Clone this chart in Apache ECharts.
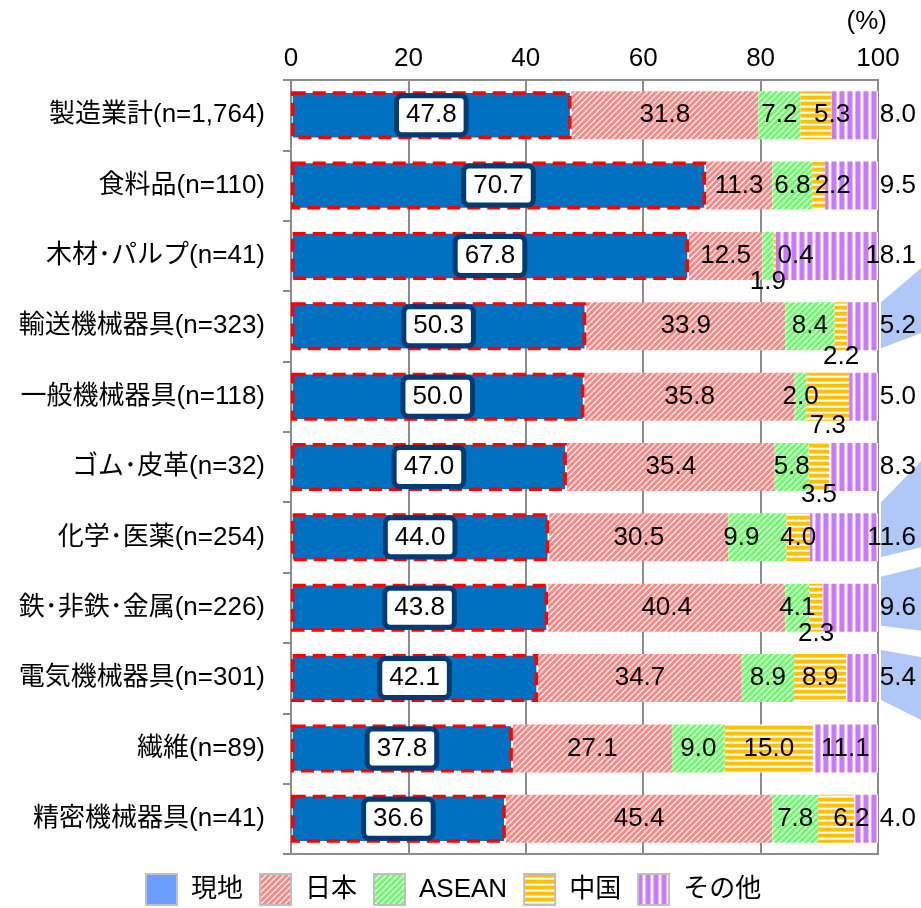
<!DOCTYPE html>
<html>
<head>
<meta charset="utf-8">
<script src="https://cdn.jsdelivr.net/npm/echarts@6/dist/echarts.min.js"></script>
<style>
  html, body { margin: 0; padding: 0; background: #ffffff; }
  #chart { width: 921px; height: 908px; }
</style>
</head>
<body>
<div id="chart"></div>
<script>
// Production location shares by industry (%)
const categories = [
  '製造業計(n=1,764)', '食料品(n=110)', '木材･パルプ(n=41)', '輸送機械器具(n=323)',
  '一般機械器具(n=118)', 'ゴム･皮革(n=32)', '化学･医薬(n=254)', '鉄･非鉄･金属(n=226)',
  '電気機械器具(n=301)', '繊維(n=89)', '精密機械器具(n=41)'
];
const seriesNames = ['現地', '日本', 'ASEAN', '中国', 'その他'];
const localShare = [47.8, 70.7, 67.8, 50.3, 50.0, 47.0, 44.0, 43.8, 42.1, 37.8, 36.6];
const japanShare = [31.8, 11.3, 12.5, 33.9, 35.8, 35.4, 30.5, 40.4, 34.7, 27.1, 45.4];
const aseanShare = [7.2, 6.8, 1.9, 8.4, 2.0, 5.8, 9.9, 4.1, 8.9, 9.0, 7.8];
const chinaShare = [5.3, 2.2, 0.4, 2.2, 7.3, 3.5, 4.0, 2.3, 8.9, 15.0, 6.2];
const otherShare = [8.0, 9.5, 18.1, 5.2, 5.0, 8.3, 11.6, 9.6, 5.4, 11.1, 4.0];
const axisMin = 0, axisMax = 100, axisStep = 20;

const FONT = '"Liberation Sans", "Noto Sans CJK JP", sans-serif';
const GRID_GRAY = '#8c8c8c';

// ---- fill patterns -------------------------------------------------------
function tile(w, h, paint) {
  const c = document.createElement('canvas');
  c.width = w; c.height = h;
  const ctx = c.getContext('2d');
  for (let y = 0; y < h; y++) {
    for (let x = 0; x < w; x++) {
      ctx.fillStyle = paint(x, y);
      ctx.fillRect(x, y, 1, 1);
    }
  }
  return { image: c, repeat: 'repeat' };
}
// fine "/" hatch with dotted light diagonals
function diagonal(base, mid, light) {
  return tile(6, 6, (x, y) => {
    const d = (x + y) % 6;
    if (d === 0) return (x % 2 === 0) ? '#ffffff' : light;
    if (d === 1 || d === 5) return mid;
    return base;
  });
}
const pinkFill = diagonal('#ff8585', '#ffb4b4', '#ffe0e0');
const greenFill = diagonal('#66ff66', '#a8ffa8', '#dcffdc');
const yellowFill = tile(1, 6, (x, y) => ['#ffc000', '#ffc000', '#ffc000', '#ffd860', '#ffffff', '#ffe8a0'][y]);
const purpleFill = tile(8, 1, (x) => ['#cc77ff', '#cc77ff', '#cc77ff', '#cc77ff', '#e4c0ff', '#ffffff', '#ffffff', '#dcaaff'][x]);

// ---- per-label placement tweaks for narrow segments ----------------------
const labelTweaks = {
  'ASEAN': { 2: { position: 'bottom', distance: -11 }, 6: { offset: [-16, 0] } },
  '中国': {
    0: { offset: [16, 0] }, 1: { offset: [14, 0] }, 2: { offset: [21, 0] },
    3: { position: 'bottom', distance: -6 }, 4: { position: 'bottom', distance: -8 },
    5: { position: 'bottom', distance: -9 }, 7: { position: 'bottom', distance: -11 },
    10: { offset: [15, 0] }
  },
  'その他': { 9: { position: 'inside', align: 'center', distance: 5 } }
};

function withTweaks(name, values) {
  const t = labelTweaks[name] || {};
  return values.map((v, i) => t[i] ? { value: v, label: t[i] } : v);
}

const baseLabel = {
  show: true,
  position: 'inside',
  color: '#000000',
  fontSize: 26,
  fontFamily: FONT,
  formatter: (p) => Number(p.value).toFixed(1)
};

const seriesDefs = [
  {
    name: '現地', values: localShare,
    itemStyle: { color: '#0070c0', borderColor: '#ff0000', borderWidth: 3.5, borderType: [13, 7] },
    label: Object.assign({}, baseLabel, {
      backgroundColor: '#ffffff', borderColor: '#003b73', borderWidth: 5,
      borderRadius: 3, padding: [5, 7, 3, 7]
    }),
    z: 3
  },
  { name: '日本', values: japanShare, itemStyle: { color: pinkFill }, label: baseLabel },
  { name: 'ASEAN', values: aseanShare, itemStyle: { color: greenFill }, label: baseLabel },
  { name: '中国', values: chinaShare, itemStyle: { color: yellowFill }, label: baseLabel },
  {
    name: 'その他', values: otherShare, itemStyle: { color: purpleFill },
    label: Object.assign({}, baseLabel, { position: 'right', align: 'right', distance: 38 })
  }
];

const legendColors = {
  '現地': '#6b9cff', '日本': pinkFill, 'ASEAN': greenFill, '中国': yellowFill, 'その他': purpleFill
};

const chart = echarts.init(document.getElementById('chart'), null, { renderer: 'canvas' });

const option = {
  animation: false,
  textStyle: { fontFamily: FONT },
  title: {
    text: '(%)', right: 34, top: 9, padding: 0,
    textStyle: { fontSize: 26, fontWeight: 'normal', color: '#000000', fontFamily: FONT }
  },
  legend: {
    left: 145, top: 873,
    itemWidth: 31, itemHeight: 31, itemGap: 16, padding: 0,
    textStyle: { fontSize: 26, color: '#000000', fontFamily: FONT, padding: [0, 0, 0, 9] },
    data: seriesNames.map(n => ({
      name: n,
      icon: 'rect',
      itemStyle: { color: legendColors[n], borderColor: '#bfbfbf', borderWidth: 2, borderType: 'solid' }
    }))
  },
  grid: {
    left: 291, right: 43, top: 80, bottom: 54,
    containLabel: false, outerBoundsMode: 'none',
    show: true, borderColor: GRID_GRAY, borderWidth: 2, backgroundColor: 'transparent'
  },
  xAxis: {
    type: 'value', position: 'top',
    min: axisMin, max: axisMax, interval: axisStep,
    axisLine: { show: true, lineStyle: { color: GRID_GRAY, width: 2 } },
    axisTick: { show: false },
    axisLabel: { fontSize: 26, color: '#000000', margin: 8, fontFamily: FONT },
    splitLine: { show: true, lineStyle: { color: GRID_GRAY, width: 2 } }
  },
  yAxis: {
    type: 'category', inverse: true, data: categories,
    axisLine: { show: true, lineStyle: { color: GRID_GRAY, width: 2 } },
    axisTick: { show: true, length: 8, inside: false, lineStyle: { color: GRID_GRAY, width: 2 } },
    axisLabel: { fontSize: 26, color: '#000000', margin: 26, fontFamily: FONT },
    splitLine: { show: false }
  },
  series: seriesDefs.map(s => ({
    name: s.name,
    type: 'bar',
    stack: 'share',
    barWidth: 48,
    data: withTweaks(s.name, s.values),
    itemStyle: s.itemStyle,
    label: s.label,
    z: s.z || 2
  }))
};

chart.setOption(option);

// Light-blue callout wedges on the right edge, anchored to their rows
const calloutRows = [
  { row: 3, left: [-24, 22], right: [-58, 7] },
  { row: 6, left: [-35, 20], right: [-76, 10] },
  { row: 7, left: [-31, 18], right: [-41, 23] },
  { row: 8, left: [-28, 22], right: [-21, 42] }
];
const xEdge = chart.convertToPixel({ xAxisIndex: 0 }, axisMax) + 3;
const xFar = chart.getWidth();
chart.setOption({
  graphic: calloutRows.map(c => {
    const cy = chart.convertToPixel({ yAxisIndex: 0 }, categories[c.row]);
    return {
      type: 'polygon', z: 0, silent: true,
      shape: { points: [
        [xEdge, cy + c.left[0]], [xFar, cy + c.right[0]],
        [xFar, cy + c.right[1]], [xEdge, cy + c.left[1]]
      ] },
      style: { fill: '#b0c8f8' }
    };
  })
});
</script>
</body>
</html>
